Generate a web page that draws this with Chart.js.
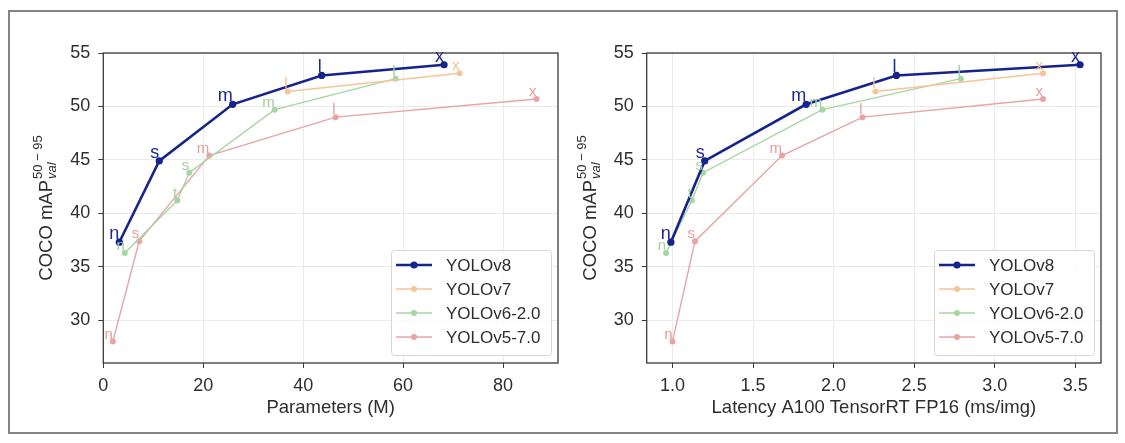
<!DOCTYPE html>
<html><head><meta charset="utf-8">
<script src="https://cdn.jsdelivr.net/npm/chart.js@4.4.0/dist/chart.umd.min.js"></script>
<style>
html,body{margin:0;padding:0;background:#fff;width:1125px;height:443px;overflow:hidden;}
#frame{position:absolute;left:8px;top:10px;width:1110px;height:424px;border:2px solid #858585;box-sizing:border-box;}
.wrap{position:absolute;top:0;height:443px;}
canvas{display:block;}
</style></head><body>
<div id="frame"></div>
<div class="wrap" style="left:0;width:562px"><canvas id="c1" width="562" height="443"></canvas></div>
<div class="wrap" style="left:562px;width:563px"><canvas id="c2" width="563" height="443"></canvas></div>
<script>
// ---- data ----
const seriesNames = ['YOLOv8', 'YOLOv7', 'YOLOv6-2.0', 'YOLOv5-7.0'];

const v8Labels  = ['n', 's', 'm', 'l', 'x'];
const v8Params  = [3.2, 11.2, 25.9, 43.7, 68.2];
const v8Latency = [0.99, 1.20, 1.83, 2.39, 3.53];
const v8MAP     = [37.3, 44.9, 50.2, 52.9, 53.9];

const v7Labels  = ['l', 'x'];
const v7Params  = [36.9, 71.3];
const v7Latency = [2.26, 3.30];
const v7MAP     = [51.4, 53.1];

const v6Labels  = ['n', 't', 's', 'm', 'l'];
const v6Params  = [4.3, 14.8, 17.2, 34.3, 58.5];
const v6Latency = [0.96, 1.12, 1.19, 1.93, 2.79];
const v6MAP     = [36.3, 41.2, 43.8, 49.7, 52.6];

const v5Labels  = ['n', 's', 'm', 'l', 'x'];
const v5Params  = [1.9, 7.2, 21.2, 46.5, 86.7];
const v5Latency = [1.00, 1.14, 1.68, 2.18, 3.30];
const v5MAP     = [28.0, 37.4, 45.4, 49.0, 50.7];

const yTicks       = [30, 35, 40, 45, 50, 55];
const paramTicks   = [0, 20, 40, 60, 80];
const latencyTicks = [1.0, 1.5, 2.0, 2.5, 3.0, 3.5];

const yTitleMain = 'COCO mAP';
const yTitleSup  = '50 \u2212 95';
const yTitleSub  = 'val';
const paramTitle   = 'Parameters (M)';
const latencyTitle = 'Latency A100 TensorRT FP16 (ms/img)';

// ---- styles ----
const FONT = '"Liberation Sans", Arial, sans-serif';
const TXT = '#2e2e2e';
const styles = [
  {color: '#16238c', width: 2.6, radius: 3.6, lfont: '18px ' + FONT, lcolor: '#1c2a8e'},
  {color: '#f5c597', width: 1.4, radius: 3.0, lfont: '15px ' + FONT, lcolor: '#f2c08f'},
  {color: '#a6d6a3', width: 1.4, radius: 3.0, lfont: '15px ' + FONT, lcolor: '#9fd19c'},
  {color: '#eaa3a3', width: 1.4, radius: 3.0, lfont: '15px ' + FONT, lcolor: '#e79d9d'}
];
const allLabels = [v8Labels, v7Labels, v6Labels, v5Labels];
const allMAP = [v8MAP, v7MAP, v6MAP, v5MAP];

function makeDatasets(xsList) {
  return xsList.map((xs, i) => ({
    label: seriesNames[i],
    data: xs.map((x, j) => ({x: x, y: allMAP[i][j]})),
    showLine: true,
    borderColor: styles[i].color,
    backgroundColor: styles[i].color,
    borderWidth: styles[i].width,
    pointRadius: styles[i].radius,
    pointBorderWidth: 0,
    pointHoverRadius: styles[i].radius,
    tension: 0,
    clip: false
  }));
}

const decoPlugin = {
  id: 'deco',
  afterDatasetsDraw(chart) {
    const ctx = chart.ctx;
    for (let i = chart.data.datasets.length - 1; i >= 0; i--) {
      const meta = chart.getDatasetMeta(i);
      ctx.save();
      ctx.font = styles[i].lfont;
      ctx.fillStyle = styles[i].lcolor;
      ctx.textAlign = 'right';
      ctx.textBaseline = 'alphabetic';
      meta.data.forEach((el, j) => {
        ctx.fillText(allLabels[i][j], el.x, el.y - 3);
      });
      ctx.restore();
    }
  },
  afterDraw(chart) {
    const ctx = chart.ctx;
    const a = chart.chartArea;
    ctx.save();
    ctx.strokeStyle = '#3a3a3a';
    ctx.lineWidth = 1.3;
    ctx.strokeRect(a.left, a.top, a.right - a.left, a.bottom - a.top);
    ctx.restore();

    // y title with super/subscript
    ctx.save();
    ctx.translate(a.left - 57, (a.top + a.bottom) / 2);
    ctx.rotate(-Math.PI / 2);
    ctx.fillStyle = TXT;
    const mainFont = '18.5px ' + FONT, supFont = '13px ' + FONT, subFont = 'italic 13px ' + FONT;
    ctx.font = mainFont; const wm = ctx.measureText(yTitleMain).width;
    ctx.font = supFont; const wsup = ctx.measureText(yTitleSup).width;
    ctx.font = subFont; const wsub = ctx.measureText(yTitleSub).width;
    const total = wm + 1 + Math.max(wsup, wsub);
    let x0 = -total / 2;
    ctx.textAlign = 'left';
    ctx.textBaseline = 'alphabetic';
    ctx.font = mainFont; ctx.fillText(yTitleMain, x0, 6);
    ctx.font = supFont; ctx.fillText(yTitleSup, x0 + wm + 1, -4);
    ctx.font = subFont; ctx.fillText(yTitleSub, x0 + wm + 1, 10);
    ctx.restore();

    // legend
    const lw = 160, lh = 105;
    const lx = a.right - 7 - lw, ly = a.bottom - 8 - lh;
    ctx.save();
    ctx.fillStyle = 'rgba(255,255,255,0.85)';
    ctx.strokeStyle = '#d6d6d6';
    ctx.lineWidth = 1;
    ctx.beginPath();
    ctx.roundRect(lx + 0.5, ly + 0.5, lw, lh, 3);
    ctx.fill(); ctx.stroke();
    chart.data.datasets.forEach((ds, i) => {
      const y = ly + 15 + i * 24;
      ctx.strokeStyle = styles[i].color;
      ctx.lineWidth = styles[i].width;
      ctx.beginPath(); ctx.moveTo(lx + 5, y); ctx.lineTo(lx + 41, y); ctx.stroke();
      ctx.fillStyle = styles[i].color;
      ctx.beginPath(); ctx.arc(lx + 23, y, styles[i].radius, 0, Math.PI * 2); ctx.fill();
      ctx.fillStyle = TXT;
      ctx.font = '17px ' + FONT;
      ctx.textAlign = 'left';
      ctx.textBaseline = 'middle';
      ctx.fillText(ds.label, lx + 55, y + 1);
    });
    ctx.restore();
  }
};

function buildChart(id, xsList, xTicks, xMin, xMax, xTitle, xFmt, yWidth, padRight) {
  const tickFont = {family: FONT, size: 18};
  return new Chart(document.getElementById(id), {
    type: 'scatter',
    data: {datasets: makeDatasets(xsList)},
    options: {
      responsive: false,
      animation: false,
      events: [],
      layout: {padding: {left: 0, right: padRight, top: 53, bottom: 20}},
      plugins: {legend: {display: false}, tooltip: {enabled: false}},
      scales: {
        x: {
          type: 'linear', min: xMin, max: xMax,
          afterBuildTicks: s => { s.ticks = xTicks.map(v => ({value: v})); },
          afterFit: s => { s.height = 60; },
          border: {display: false},
          grid: {color: '#ebebeb', lineWidth: 1, tickColor: '#3a3a3a', tickLength: 5, drawOnChartArea: true},
          ticks: {font: tickFont, color: TXT, padding: 7, maxRotation: 0, autoSkip: false, callback: xFmt},
          title: {display: true, text: xTitle, font: {family: FONT, size: 18.5}, color: TXT, padding: {top: 4, bottom: 4}}
        },
        y: {
          type: 'linear', min: 26, max: 55,
          afterBuildTicks: s => { s.ticks = yTicks.map(v => ({value: v})); },
          afterFit: s => { s.width = yWidth; },
          border: {display: false},
          grid: {color: '#ebebeb', lineWidth: 1, tickColor: '#3a3a3a', tickLength: 5},
          ticks: {font: tickFont, color: TXT, padding: 8, callback: v => String(v)}
        }
      }
    },
    plugins: [decoPlugin]
  });
}

buildChart('c1', [v8Params, v7Params, v6Params, v5Params], paramTicks, 0, 91,
  paramTitle, v => String(v), 103.3, 4);
buildChart('c2', [v8Latency, v7Latency, v6Latency, v5Latency], latencyTicks, 0.84, 3.66,
  latencyTitle, v => Number(v).toFixed(1), 84.7, 24);
</script>
</body></html>
